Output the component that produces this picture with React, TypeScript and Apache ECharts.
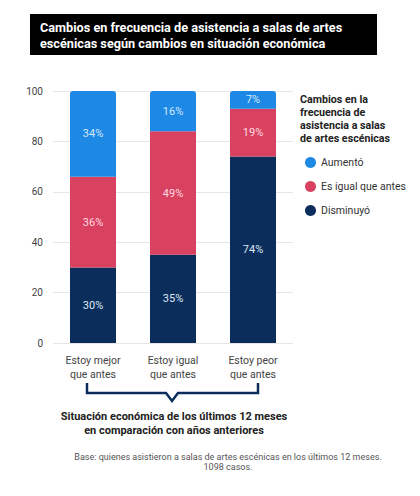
import React, { useEffect, useRef } from "react";
import * as echarts from "echarts";

const categories = ["Estoy mejor\nque antes", "Estoy igual\nque antes", "Estoy peor\nque antes"];
const disminuyo = [30, 35, 74];
const igual = [36, 49, 19];
const aumento = [34, 16, 7];
const seriesNames = ["Aumentó", "Es igual que antes", "Disminuyó"];
const yTicks = { min: 0, max: 100, interval: 20 };

const titleLines = "Cambios en frecuencia de asistencia a salas de artes\nescénicas según cambios en situación económica";
const legendTitle = "Cambios en la\nfrecuencia de\nasistencia a salas\nde artes escénicas";
const axisTitle = "Situación económica de los últimos 12 meses\nen comparación con años anteriores";
const footnote = "Base: quienes asistieron a salas de artes escénicas en los últimos 12 meses.\n1098 casos.";

const FONT = "Roboto, 'Noto Sans', sans-serif";

export default function App() {
  const ref = useRef<HTMLDivElement>(null);
  useEffect(() => {
    document.body.style.margin = "0";
    const chart = echarts.init(ref.current!, undefined, { renderer: "svg" });
    const label = (color: string) => ({
      show: true,
      position: "inside" as const,
      formatter: "{c}%",
      color,
      fontSize: 11,
      fontFamily: FONT,
    });
    chart.setOption({
      animation: false,
      textStyle: { fontFamily: FONT },
      grid: { left: 53, right: 127, top: 91, bottom: 153, containLabel: false },
      legend: {
        data: seriesNames,
        orient: "vertical",
        left: 300,
        top: 152,
        icon: "circle",
        itemWidth: 11,
        itemHeight: 11,
        itemGap: 13,
        textStyle: { fontSize: 10.5, color: "#333", fontFamily: FONT },
        selectedMode: false,
      },
      xAxis: {
        type: "category",
        data: categories,
        axisLine: { show: false },
        axisTick: { show: false },
        axisLabel: { color: "#444", fontSize: 10.5, lineHeight: 14, margin: 10, fontFamily: FONT },
      },
      yAxis: {
        type: "value",
        min: yTicks.min,
        max: yTicks.max,
        interval: yTicks.interval,
        axisLabel: { color: "#444", fontSize: 10, margin: 10, fontFamily: FONT },
        splitLine: { lineStyle: { color: "#e6e6e6" } },
      },
      series: [
        {
          name: "Disminuyó",
          type: "bar",
          stack: "a",
          data: disminuyo,
          barWidth: "57.5%",
          itemStyle: { color: "#0b2d5b" },
          label: label("#dfe8f5"),
        },
        {
          name: "Es igual que antes",
          type: "bar",
          stack: "a",
          data: igual,
          itemStyle: { color: "#d8415f" },
          label: label("#ffd9e1"),
        },
        {
          name: "Aumentó",
          type: "bar",
          stack: "a",
          data: aumento,
          itemStyle: { color: "#1e88e5", borderRadius: [3, 3, 0, 0] },
          label: label("#d3eaff"),
        },
      ],
      graphic: [
        {
          type: "rect",
          shape: { x: 30, y: 14, width: 347, height: 41 },
          style: { fill: "#000" },
        },
        {
          type: "text",
          x: 40,
          y: 19,
          style: {
            text: titleLines,
            fill: "#fff",
            font: `bold 12.7px ${FONT}`,
            lineHeight: 16,
          },
        },
        {
          type: "text",
          x: 300,
          y: 93,
          style: {
            text: legendTitle,
            fill: "#222",
            font: `bold 10.7px ${FONT}`,
            lineHeight: 13,
          },
        },
        {
          type: "polyline",
          shape: {
            points: [
              [87, 383],
              [87, 393],
              [166, 393],
              [172, 401],
              [178, 393],
              [258, 393],
              [258, 383],
            ],
          },
          style: { stroke: "#0b2d5b", lineWidth: 2.5, fill: "none" },
        },
        {
          type: "text",
          x: 174,
          y: 409,
          style: {
            text: axisTitle,
            fill: "#222",
            font: `bold 11px ${FONT}`,
            lineHeight: 14,
            align: "center",
          },
        },
        {
          type: "text",
          x: 228,
          y: 452,
          style: {
            text: footnote,
            fill: "#555",
            font: `9px ${FONT}`,
            lineHeight: 10,
            align: "center",
          },
        },
      ],
    });
    return () => chart.dispose();
  }, []);
  return <div ref={ref} style={{ width: 420, height: 496 }} />;
}
